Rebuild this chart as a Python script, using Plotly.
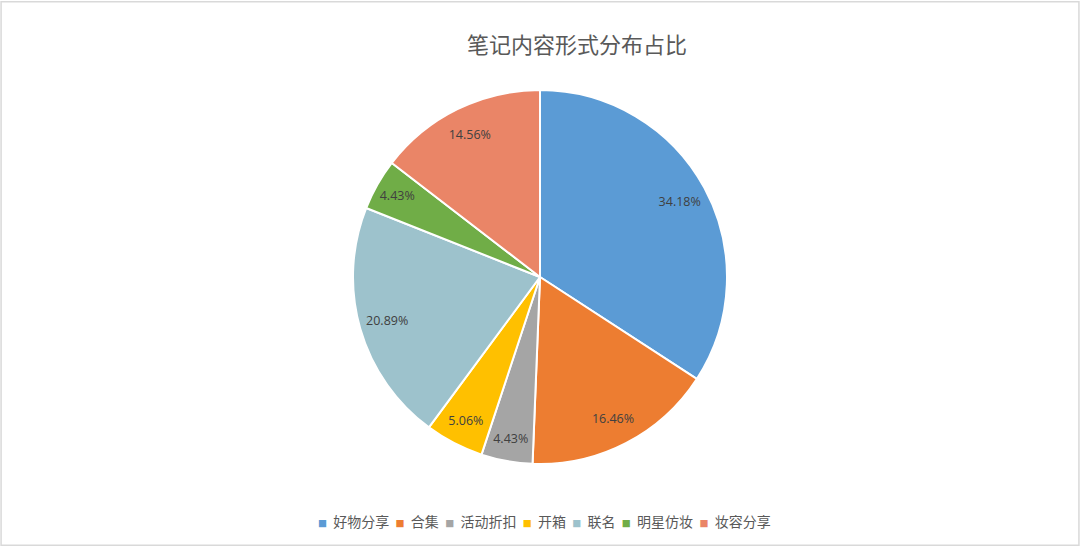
import plotly.graph_objects as go

categories = ["好物分享", "合集", "活动折扣", "开箱", "联名", "明星仿妆", "妆容分享"]
values = [34.18, 16.46, 4.43, 5.06, 20.89, 4.43, 14.56]
colors = ["#5B9BD5", "#ED7D31", "#A5A5A5", "#FFC000", "#9DC2CC", "#70AD47", "#EA8567"]
title_text = "笔记内容形式分布占比"

W, H = 1080, 547
cx, cy, r = 540, 277, 187
dom = dict(x=[(cx - r) / W, (cx + r) / W], y=[1 - (cy + r) / H, 1 - (cy - r) / H])

fig = go.Figure()
# the slices
fig.add_trace(go.Pie(
    labels=categories, values=values, sort=False, direction="clockwise", rotation=0,
    marker=dict(colors=colors, line=dict(color="white", width=2)),
    textinfo="none", domain=dom, showlegend=False, hoverinfo="label+percent",
))
# the value labels, placed in an outer ring of the same pie
fig.add_trace(go.Pie(
    labels=categories, values=values, sort=False, direction="clockwise", rotation=0,
    hole=0.7,
    marker=dict(colors=["rgba(0,0,0,0)"] * len(values), line=dict(width=0)),
    texttemplate="%{value:.2f}%", textposition="inside", insidetextorientation="horizontal",
    textfont=dict(family="Open Sans, Noto Sans CJK SC", size=12.5, color="#404040"),
    domain=dom, showlegend=False, hoverinfo="skip",
))

legend_html = "&nbsp;&nbsp;".join(
    f"<span style='color:{c};font-size:9px'>■</span>&nbsp;&nbsp;{n}" for n, c in zip(categories, colors)
)

fig.update_layout(
    width=W, height=H,
    margin=dict(l=0, r=0, t=0, b=0),
    paper_bgcolor="white",
    title=dict(text=title_text, x=577 / W, xanchor="center", y=1 - 45 / H, yanchor="middle",
               font=dict(family="Noto Sans CJK SC", size=22, color="#595959")),
    uniformtext=dict(minsize=12, mode="show"),
    annotations=[dict(text=legend_html, xref="paper", yref="paper", x=544 / W, y=1 - 521 / H,
                      xanchor="center", yanchor="middle", showarrow=False,
                      font=dict(family="Noto Sans CJK SC", size=14, color="#595959"))],
    shapes=[dict(type="rect", xref="paper", yref="paper", x0=0.001, x1=0.999, y0=0.003, y1=0.997,
                 line=dict(color="#D9D9D9", width=1.5))],
)

fig.write_html("out.html", config=dict(displayModeBar=False),
               post_script="document.body.style.margin='0';document.body.style.overflow='hidden';")
